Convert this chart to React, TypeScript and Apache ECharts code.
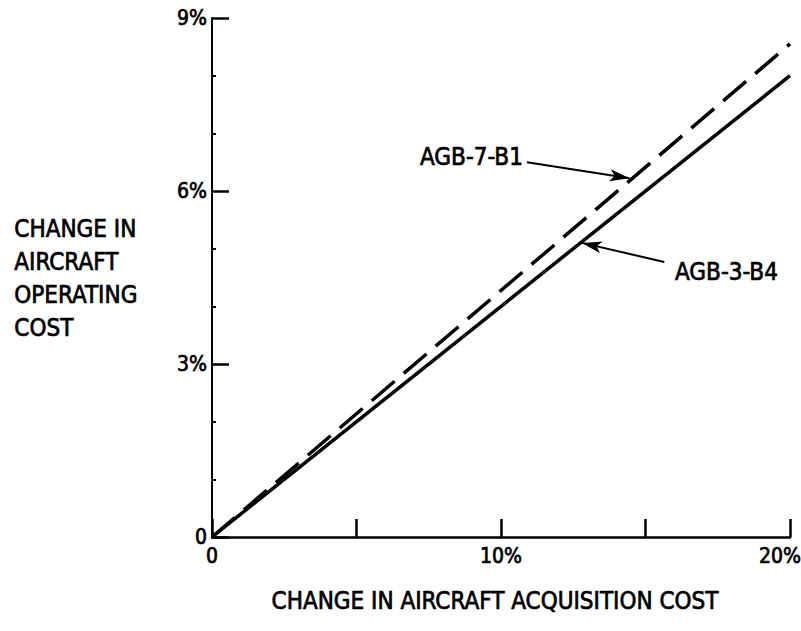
import React, { useEffect, useRef } from "react";
import * as echarts from "echarts";

const xValues = [0, 20];
const agb3b4 = [0, 8.0];
const agb7b1 = [0, 8.55];
const xTickLabels: Record<number, string> = { 0: "0", 10: "10%", 20: "20%" };
const yTickLabels: Record<number, string> = { 0: "0", 3: "3%", 6: "6%", 9: "9%" };
const yTitle = ["CHANGE IN", "AIRCRAFT", "OPERATING", "COST"];
const xTitle = "CHANGE IN AIRCRAFT ACQUISITION COST";
const arrow7 = [[10.9, 6.5], [14.45, 6.22]];
const arrow3 = [[15.65, 4.77], [12.8, 5.1]];

const FONT = "'DejaVu Sans Condensed', 'Liberation Sans Narrow', sans-serif";

export default function App() {
  const ref = useRef<HTMLDivElement>(null);
  useEffect(() => {
    document.body.style.margin = "0";
    const chart = echarts.init(ref.current!, null, { renderer: "svg" });
    const arrowLine = (pts: number[][]) => ({
      silent: true,
      symbol: ["none", "arrow"],
      symbolSize: [9, 20],
      label: { show: false },
      lineStyle: { type: "solid", color: "#000", width: 2 },
      data: [[{ coord: pts[0] }, { coord: pts[1] }]],
    });
    const textStroke = { stroke: "#000", lineWidth: 0.7 };
    chart.setOption({
      animation: false,
      backgroundColor: "#fff",
      grid: { left: 212, right: 11, top: 18, bottom: 94, containLabel: false, outerBoundsMode: "none" },
      xAxis: {
        type: "value",
        min: 0,
        max: 20,
        interval: 5,
        axisLine: { show: true, lineStyle: { color: "#000", width: 2.5 } },
        axisTick: { show: true, inside: true, length: 18, lineStyle: { color: "#000", width: 2.5 } },
        splitLine: { show: false },
        axisLabel: {
          color: "#000",
          fontFamily: FONT,
          fontSize: 21,
          margin: 8,
          textBorderColor: "#000",
          textBorderWidth: 0.7,
          formatter: (v: number) => (v === 20 ? `{m|${xTickLabels[v]}}` : xTickLabels[v] ?? ""),
          rich: {
            m: {
              color: "#000",
              fontFamily: FONT,
              fontSize: 21,
              textBorderColor: "#000",
              textBorderWidth: 0.7,
              padding: [0, 20, 0, 0],
            },
          },
        },
        name: xTitle,
        nameLocation: "middle",
        nameGap: 52,
        nameTextStyle: {
          color: "#000",
          fontFamily: FONT,
          fontSize: 24,
          textBorderColor: "#000",
          textBorderWidth: 0.7,
          padding: [0, 12, 0, 0],
        },
      },
      yAxis: {
        type: "value",
        min: 0,
        max: 9,
        interval: 3,
        axisLine: { show: true, lineStyle: { color: "#000", width: 2 } },
        axisTick: { show: true, inside: true, length: 17, lineStyle: { color: "#000", width: 2.5 } },
        minorTick: { show: true, splitNumber: 3, length: 4, lineStyle: { color: "#000", width: 2 } },
        splitLine: { show: false },
        axisLabel: {
          color: "#000",
          fontFamily: FONT,
          fontSize: 21,
          margin: 5,
          textBorderColor: "#000",
          textBorderWidth: 0.7,
          formatter: (v: number) => yTickLabels[v] ?? "",
        },
      },
      graphic: [
        {
          type: "text",
          left: 14,
          top: 212,
          style: {
            text: yTitle.join("\n"),
            fill: "#000",
            font: `24px ${FONT}`,
            lineHeight: 33,
            ...textStroke,
          },
        },
        {
          type: "text",
          x: 420,
          y: 157,
          style: { text: "AGB-7-B1", fill: "#000", font: `24px ${FONT}`, verticalAlign: "middle", ...textStroke },
        },
        {
          type: "text",
          x: 675,
          y: 272,
          style: { text: "AGB-3-B4", fill: "#000", font: `24px ${FONT}`, verticalAlign: "middle", ...textStroke },
        },
      ],
      series: [
        {
          name: "AGB-7-B1",
          type: "line",
          data: xValues.map((x, i) => [x, agb7b1[i]]),
          symbol: "none",
          lineStyle: { color: "#000", width: 3.5, type: [30, 12] },
          markLine: arrowLine(arrow7),
        },
        {
          name: "AGB-3-B4",
          type: "line",
          data: xValues.map((x, i) => [x, agb3b4[i]]),
          symbol: "none",
          lineStyle: { color: "#000", width: 3.5, type: "solid" },
          markLine: arrowLine(arrow3),
        },
      ],
    });
    return () => chart.dispose();
  }, []);
  return <div ref={ref} style={{ width: 801, height: 631 }} />;
}
